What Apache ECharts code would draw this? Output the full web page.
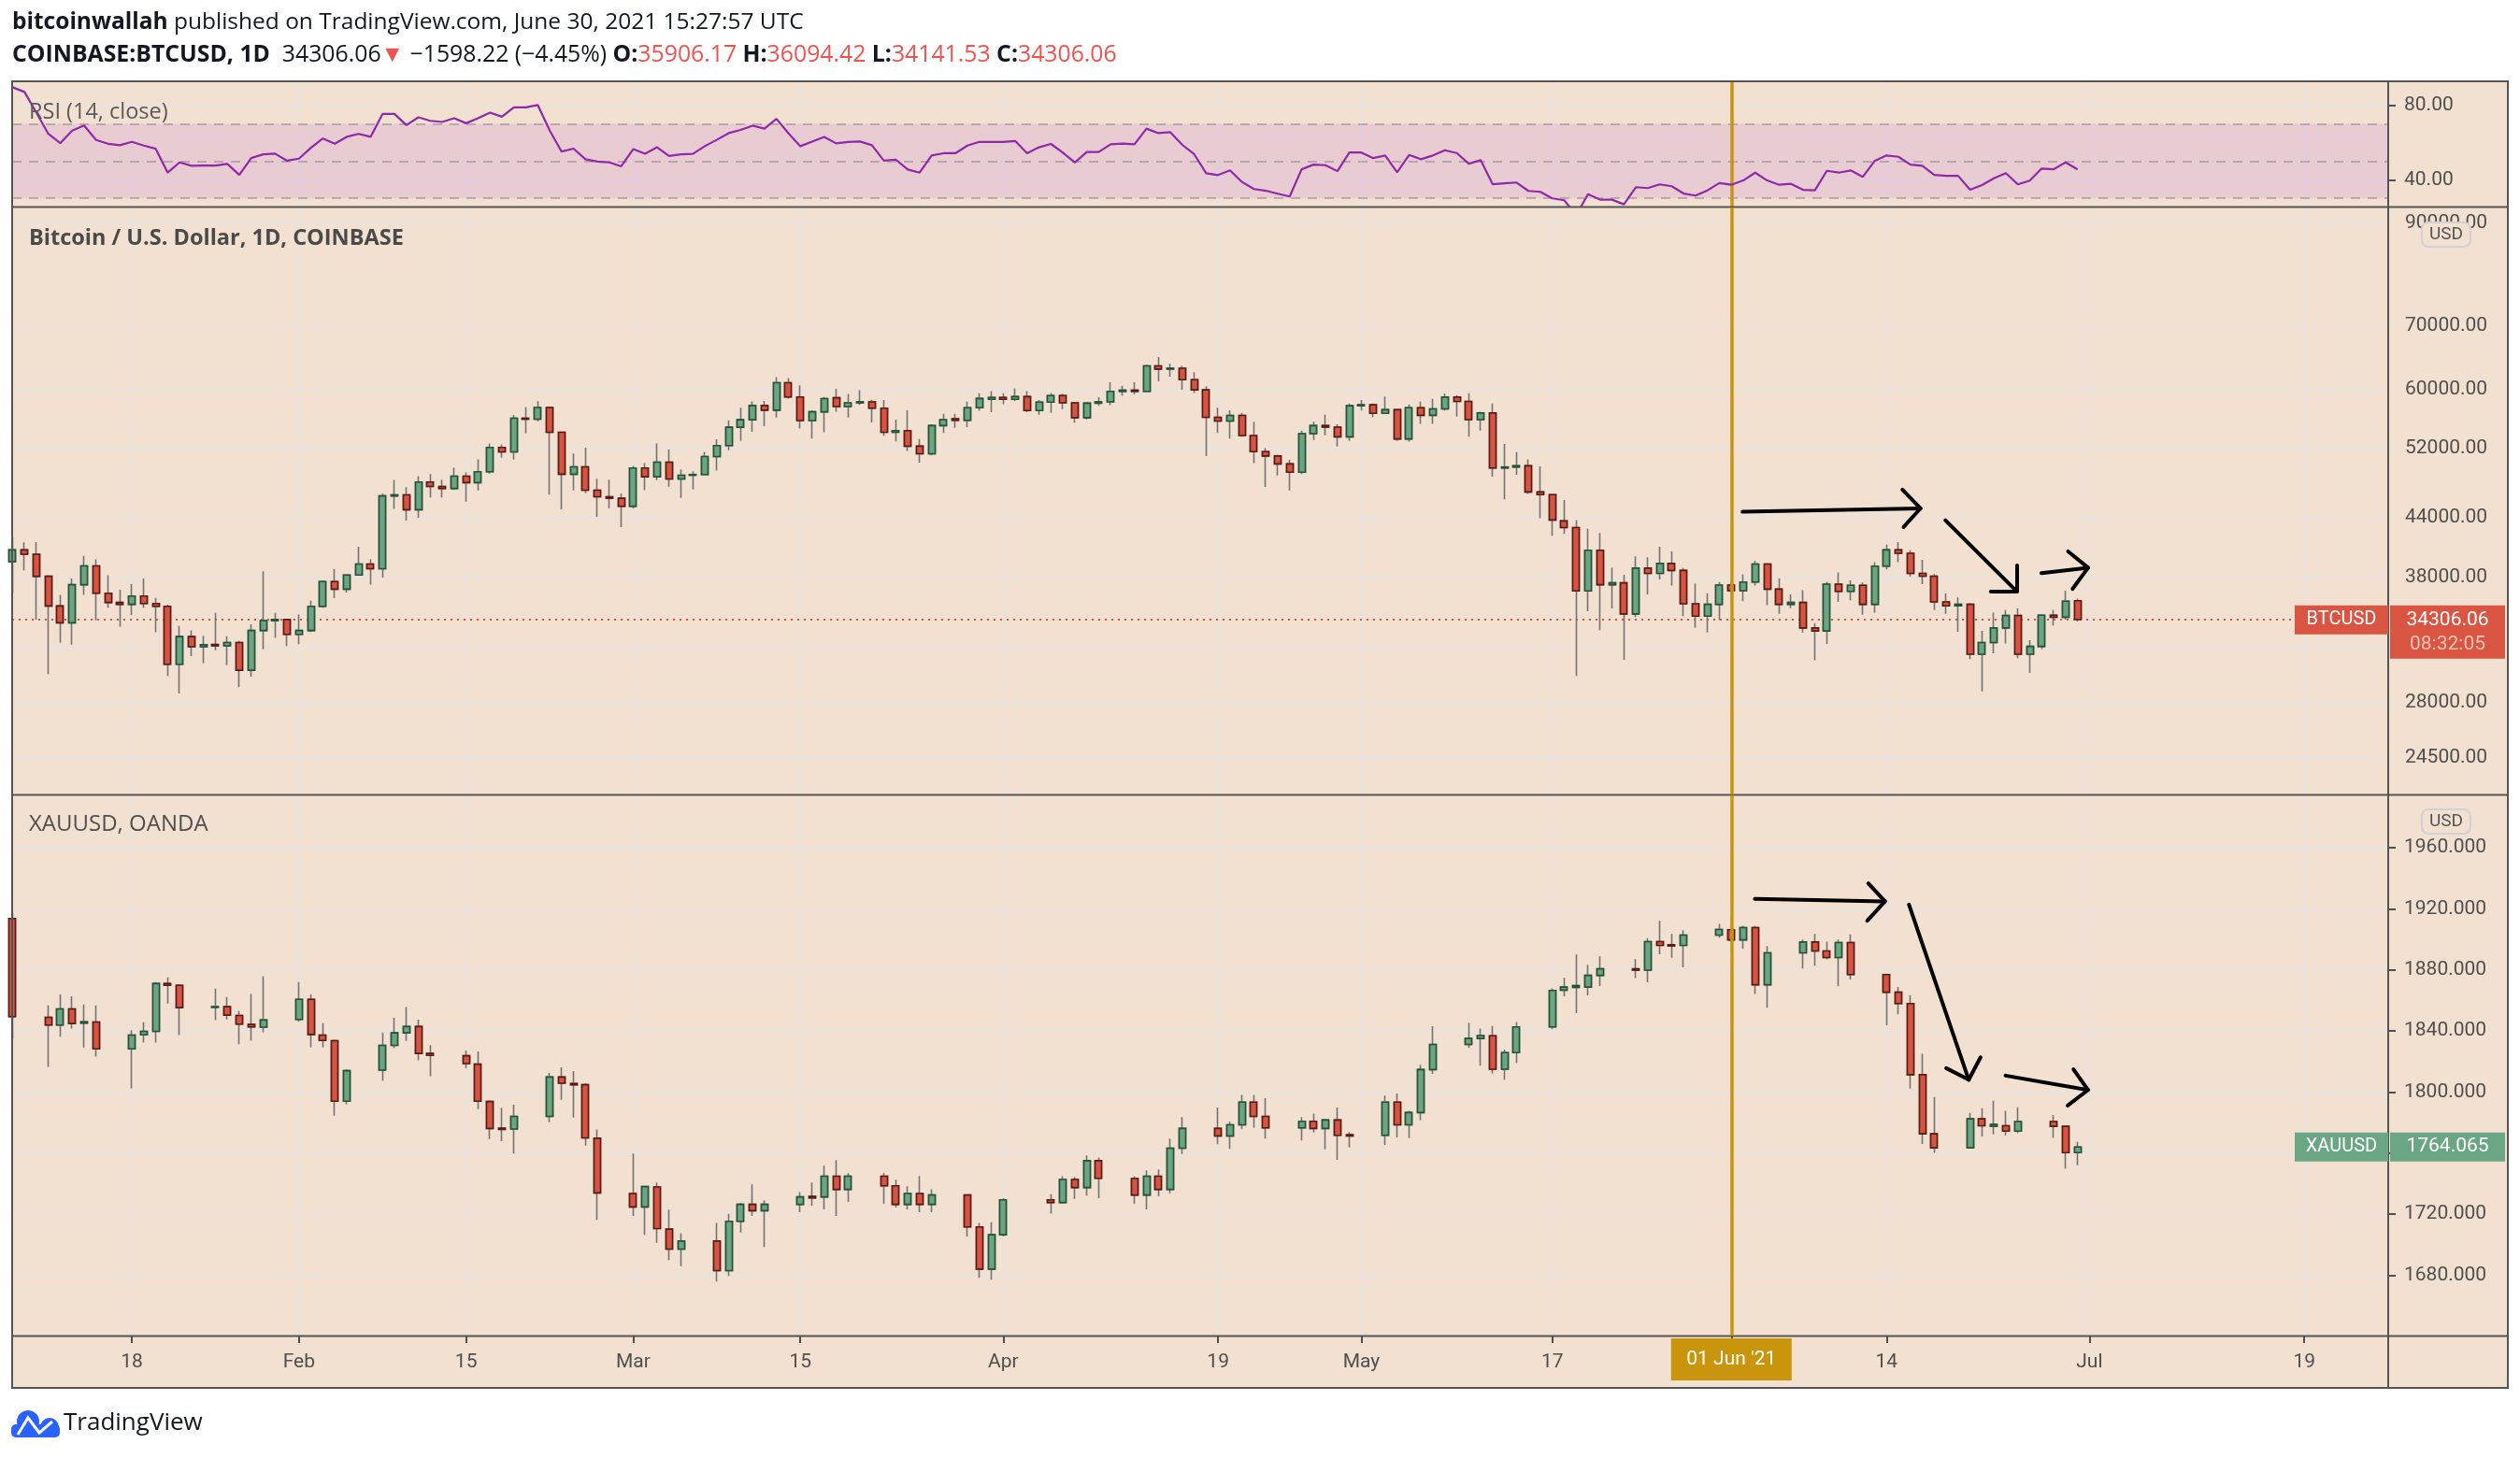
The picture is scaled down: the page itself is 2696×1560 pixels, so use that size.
<!DOCTYPE html>
<html><head><meta charset="utf-8">
<script src="https://cdn.jsdelivr.net/npm/echarts@6/dist/echarts.min.js"></script>
<style>html,body{margin:0;padding:0;background:#fff}#c{width:2696px;height:1560px}</style>
</head><body><div id="c"></div>
<script>
// ---------- DATA ----------
// BTCUSD daily: [date(MM-DD 2021), open, high, low, close]
const btcRows = [
['01-08',39490,41900,36600,40630],['01-09',40630,41385,38650,40200],['01-10',40200,41400,34300,38100],
['01-11',38100,38200,30040,35450],['01-12',35450,36420,32420,34030],['01-13',34030,37900,32260,37330],
['01-14',37330,40050,36420,39080],['01-15',39080,39700,34240,36560],['01-16',36560,38200,35290,35750],
['01-17',35750,36880,33720,35590],['01-18',35590,37380,34680,36320],['01-19',36320,37900,35300,35660],
['01-20',35660,36150,33260,35425],['01-21',35425,35560,29900,30770],['01-22',30770,33760,28650,32910],
['01-23',32910,33400,31380,32100],['01-24',32100,32980,30860,32260],['01-25',32280,34860,31840,32180],
['01-26',32180,32930,30700,32430],['01-27',32430,32560,29100,30320],['01-28',30320,33900,29850,33400],
['01-29',33400,38560,31900,34210],['01-30',34210,34860,32810,34300],['01-31',34300,34340,32150,33090],
['02-01',33090,34730,32300,33400],['02-02',33400,35910,33270,35425],['02-03',35425,37730,35290,37620],
['02-04',37620,38790,36140,36930],['02-05',36930,38280,36620,38220],['02-06',38220,40950,38200,39260],
['02-07',39260,39720,37350,38810],['02-08',38810,46610,37990,46330],['02-09',46330,48165,44900,46440],
['02-10',46440,47330,43640,44800],['02-11',44800,48600,43940,47920],['02-12',47920,48860,46160,47400],
['02-13',47400,48200,46160,47180],['02-14',47180,49630,47010,48600],['02-15',48600,49050,45680,47850],
['02-16',47850,50630,46940,49130],['02-17',49130,52640,48900,52120],['02-18',52120,52520,50830,51570],
['02-19',51570,56390,50600,55960],['02-20',55960,57500,53930,55830],['02-21',55830,58320,55520,57440],
['02-22',57440,57520,46480,54090],['02-23',54090,54170,44830,48840],['02-24',48840,51370,46940,49720],
['02-25',49720,52080,46620,46980],['02-26',46980,48300,44040,46230],['02-27',46230,48200,44930,46060],
['02-28',46060,46610,42950,45180],['03-01',45180,49840,44930,49580],['03-02',49580,50180,46980,48530],
['03-03',48530,52640,48130,50290],['03-04',50290,51850,47370,48270],['03-05',48270,49420,46090,48720],
['03-06',48720,49200,47050,48800],['03-07',48800,51550,48720,50980],['03-08',50980,53160,49270,52360],
['03-09',52360,55670,51760,54750],['03-10',54750,57400,52960,55750],['03-11',55750,58290,54150,57720],
['03-12',57720,58370,54900,57070],['03-13',57070,61830,56060,61000],['03-14',61000,61700,58700,58920],
['03-15',58920,60640,54560,55640],['03-16',55640,57060,53250,56840],['03-17',56840,58930,54070,58700],
['03-18',58810,60100,56870,57560],['03-19',57560,59360,56050,58100],['03-20',58100,59900,57790,58230],
['03-21',58230,58540,55400,57350],['03-22',57350,58500,53630,54080],['03-23',54080,55770,52900,54290],
['03-24',54290,57040,51680,52290],['03-25',52290,53200,50240,51330],['03-26',51330,55140,51130,54970],
['03-27',54970,56570,53990,55770],['03-28',55890,56570,54680,55680],['03-29',55680,58270,54760,57400],
['03-30',57400,59450,56970,58710],['03-31',58590,59780,56790,58850],['04-01',58850,59450,57910,58590],
['04-02',58590,60130,58360,58980],['04-03',58980,59780,56790,57010],['04-04',57010,58490,56450,58190],
['04-05',58190,59490,56700,59130],['04-06',59130,59400,57220,58100],['04-07',58100,58100,55350,56030],
['04-08',56030,58230,55770,58050],['04-09',58050,58890,57660,58230],['04-10',58230,61080,57750,59730],
['04-11',59730,60550,59080,59910],['04-12',59910,61080,59310,59730],['04-13',59730,63780,59730,63540],
['04-14',63540,64950,61210,63060],['04-15',63060,63880,61900,63200],['04-16',63200,63540,59960,61450],
['04-17',61450,62600,59510,59960],['04-18',59960,60480,51040,56080],['04-19',56080,57410,53980,55570],
['04-20',55570,57040,53250,56330],['04-21',56330,56700,53490,53650],['04-22',53650,55490,50180,51590],
['04-23',51590,52020,47350,51050],['04-24',51050,51200,48690,50080],['04-25',50080,50570,46960,49080],
['04-26',49080,54300,48840,53900],['04-27',53900,55470,53080,54970],['04-28',54970,56430,53680,54770],
['04-29',54770,55140,52240,53490],['04-30',53490,57990,52960,57690],['05-01',57690,58480,57010,57820],
['05-02',57820,57990,56110,56620],['05-03',56620,59000,56530,57130],['05-04',57130,57220,52960,53210],
['05-05',53210,57860,52880,57400],['05-06',57400,58270,55200,56360],['05-07',56360,58660,55200,57250],
['05-08',57250,59420,57010,58910],['05-09',58910,59150,56190,58290],['05-10',58290,59470,53490,55770],
['05-11',55770,56860,54300,56680],['05-12',56680,57990,48560,49580],['05-13',49580,52570,45940,49700],
['05-14',49700,51530,48760,49850],['05-15',49850,50640,46560,46780],['05-16',46780,49780,43880,46470],
['05-17',46470,46560,42060,43690],['05-18',43590,45860,42250,42900],['05-19',42900,43690,29900,36770],
['05-20',36770,42770,34990,40590],['05-21',40590,42340,33430,37330],['05-22',37330,38900,35230,37500],
['05-23',37500,38250,31100,34770],['05-24',34770,39990,34510,38870],['05-25',38870,39900,36460,38370],
['05-26',38370,40930,37820,39310],['05-27',39310,40470,37250,38650],['05-28',38650,38900,34590,35640],
['05-29',35640,37450,33610,34590],['05-30',34590,36560,33230,35590],['05-31',35590,37580,34250,37300],
['06-01',37300,37870,35590,36790],['06-02',36790,38290,35860,37580],['06-03',37580,39570,37250,39250],
['06-04',39250,39350,35530,36930],['06-05',36930,37920,34780,35590],['06-06',35590,36460,35260,35750],
['06-07',35750,36830,33230,33610],['06-08',33610,34000,31060,33360],['06-09',33360,37590,32330,37390],
['06-10',37390,38470,35800,36730],['06-11',36730,37730,35940,37280],['06-12',37280,37530,34700,35590],
['06-13',35590,39440,34860,39060],['06-14',39060,41150,38750,40630],['06-15',40630,41400,39440,40290],
['06-16',40290,40600,38080,38370],['06-17',38370,39660,37390,38110],['06-18',38110,38310,35100,35800],
['06-19',35800,36550,34780,35460],['06-20',35460,36200,33300,35590],['06-21',35590,35700,31150,31530],
['06-22',31530,33360,28800,32430],['06-23',32430,34890,31600,33610],['06-24',33610,35110,32360,34630],
['06-25',34630,35240,31220,31530],['06-26',31530,32620,30130,32130],['06-27',32130,34740,31930,34660],
['06-28',34660,35110,33800,34500],['06-29',34500,36790,34300,35860],['06-30',35906.17,36094.42,34141.53,34306.06]
];
// RSI(14, close) of BTCUSD, one value per BTC day
const rsiValues = [
89.6,87.1,76.0,64.6,59.6,66.3,69.1,61.3,59.3,58.5,
60.3,58.3,56.6,43.8,49.3,47.5,47.6,47.6,48.5,42.6,
51.6,53.6,54.0,50.2,51.3,57.1,62.1,59.3,63.0,64.6,
63.0,75.3,75.3,69.3,73.5,71.6,71.0,73.0,70.3,73.0,
76.0,73.8,78.8,78.8,80.1,66.5,55.1,56.7,51.0,49.7,
49.3,47.2,56.4,53.9,57.4,52.7,53.6,53.9,58.0,61.4,
65.0,66.7,69.0,67.4,72.7,65.0,58.0,60.5,63.0,59.5,
60.3,60.5,58.5,50.2,50.8,45.5,43.8,53.0,54.2,54.2,
58.3,60.3,60.3,60.3,60.8,54.2,57.4,59.2,54.5,49.2,
54.9,54.9,59.0,59.4,59.0,67.4,65.0,65.5,58.7,53.7,
43.5,42.5,45.0,38.8,35.0,34.1,32.5,31.0,45.6,48.1,
47.8,44.6,54.6,54.6,51.6,53.0,44.0,53.3,51.0,53.0,
55.8,54.3,48.6,50.5,37.6,38.1,38.5,34.0,33.5,30.0,
29.0,21.0,32.3,29.3,29.3,26.8,36.0,35.5,37.5,36.5,
32.6,31.5,34.3,38.2,37.3,39.6,43.8,39.6,37.3,37.8,
34.6,34.3,44.8,43.8,45.0,41.5,50.0,53.0,52.3,48.1,
47.5,42.6,42.1,42.1,34.6,37.1,40.8,43.5,37.5,39.5,
46.0,45.6,49.3,45.5
];
// XAUUSD daily (OANDA): [date, open, high, low, close]
const xauRows = [
['01-08',1913.7,1917.0,1835.0,1849.4],
['01-11',1849.0,1856.8,1816.5,1843.9],['01-12',1843.9,1864.0,1836.2,1854.5],['01-13',1854.5,1862.8,1841.6,1844.9],
['01-14',1845.1,1857.4,1829.2,1846.1],['01-15',1845.9,1856.8,1823.2,1828.3],
['01-18',1828.3,1840.6,1802.4,1837.3],['01-19',1837.5,1845.7,1832.5,1839.8],['01-20',1839.8,1872.1,1832.5,1871.1],
['01-21',1871.1,1875.2,1858.0,1869.9],['01-22',1869.9,1870.7,1837.3,1855.3],
['01-25',1855.5,1867.8,1847.2,1855.9],['01-26',1855.9,1862.2,1847.6,1850.4],['01-27',1850.2,1853.1,1831.3,1844.5],
['01-28',1844.3,1864.2,1833.7,1842.7],['01-29',1842.5,1875.9,1839.2,1847.2],
['02-01',1847.6,1872.1,1846.0,1860.7],['02-02',1860.7,1864.0,1829.4,1837.7],['02-03',1837.3,1845.1,1829.4,1833.8],
['02-04',1833.7,1834.5,1784.6,1794.0],['02-05',1794.0,1815.0,1792.0,1814.0],
['02-08',1814.4,1839.0,1807.3,1830.6],['02-09',1830.6,1848.6,1828.8,1838.8],['02-10',1838.8,1855.7,1833.5,1842.9],
['02-11',1842.9,1847.4,1820.8,1825.3],['02-12',1825.3,1830.8,1810.4,1824.0],
['02-15',1823.8,1827.3,1815.6,1818.7],['02-16',1818.3,1826.7,1788.8,1794.0],['02-17',1793.8,1794.6,1769.2,1776.2],
['02-18',1776.4,1789.8,1767.9,1775.6],['02-19',1775.8,1791.7,1759.8,1784.1],
['02-22',1784.1,1812.6,1780.2,1809.9],['02-23',1809.9,1816.3,1795.0,1805.8],['02-24',1805.6,1813.8,1783.3,1804.8],
['02-25',1804.8,1805.8,1764.9,1770.0],['02-26',1769.8,1775.6,1716.4,1734.0],
['03-01',1733.6,1759.8,1718.9,1724.8],['03-02',1724.8,1738.5,1706.6,1738.1],['03-03',1737.9,1740.8,1701.3,1710.7],
['03-04',1710.3,1723.0,1690.0,1697.2],['03-05',1697.2,1707.6,1686.1,1702.5],
['03-08',1702.5,1714.4,1675.9,1683.1],['03-09',1683.1,1720.3,1679.6,1715.4],['03-10',1715.4,1727.5,1708.0,1726.5],
['03-11',1726.5,1739.6,1718.9,1722.4],['03-12',1722.4,1729.1,1698.6,1726.5],
['03-15',1726.5,1734.6,1721.4,1731.4],['03-16',1731.7,1740.8,1725.6,1730.7],['03-17',1731.4,1751.8,1723.2,1744.9],
['03-18',1744.9,1755.5,1718.9,1736.3],['03-19',1736.3,1746.9,1728.1,1744.9],
['03-22',1744.9,1746.9,1726.9,1738.7],['03-23',1738.7,1742.6,1724.4,1726.5],['03-24',1726.5,1738.3,1723.2,1733.6],
['03-25',1733.6,1745.1,1721.4,1726.5],['03-26',1726.5,1736.3,1721.4,1732.6],
['03-29',1732.6,1733.2,1705.4,1711.7],['03-30',1711.7,1714.4,1678.4,1684.1],['03-31',1684.1,1714.8,1677.1,1706.6],
['04-01',1706.6,1730.5,1705.4,1729.5],
['04-05',1729.5,1733.2,1720.5,1727.7],['04-06',1727.7,1744.9,1726.9,1742.8],['04-07',1742.8,1744.5,1730.1,1737.5],
['04-08',1737.5,1758.6,1732.2,1755.1],['04-09',1755.1,1757.1,1730.5,1743.6],
['04-12',1743.4,1744.9,1726.9,1732.6],['04-13',1732.6,1748.8,1723.2,1744.9],['04-14',1744.9,1749.4,1731.8,1736.3],
['04-15',1736.3,1769.6,1733.8,1763.3],['04-16',1763.3,1783.7,1759.4,1776.2],
['04-19',1776.2,1789.9,1765.9,1771.3],['04-20',1771.3,1780.7,1762.9,1778.6],['04-21',1778.6,1798.1,1775.8,1793.4],
['04-22',1793.4,1798.1,1776.8,1784.1],['04-23',1784.1,1796.0,1769.6,1776.6],
['04-26',1776.6,1783.7,1768.4,1780.9],['04-27',1780.9,1785.8,1773.5,1776.2],['04-28',1776.2,1782.5,1762.5,1781.7],
['04-29',1781.7,1789.9,1755.7,1771.7],['04-30',1772.1,1773.9,1763.7,1771.3],
['05-03',1771.7,1797.7,1765.5,1793.4],['05-04',1793.4,1799.1,1770.4,1778.6],['05-05',1778.6,1787.8,1769.8,1786.6],
['05-06',1786.6,1817.9,1781.7,1814.8],['05-07',1814.8,1843.1,1812.0,1831.2],
['05-10',1831.2,1845.3,1829.0,1835.1],['05-11',1835.1,1841.6,1817.3,1837.0],['05-12',1836.9,1843.3,1812.2,1815.0],
['05-13',1815.0,1827.9,1807.9,1825.9],['05-14',1825.9,1845.9,1819.1,1842.7],
['05-17',1842.7,1868.0,1841.2,1866.6],['05-18',1866.8,1874.8,1862.7,1868.8],['05-19',1868.6,1890.1,1851.7,1869.7],
['05-20',1868.8,1883.4,1863.3,1876.4],['05-21',1876.4,1888.9,1869.5,1880.7],
['05-24',1880.7,1887.1,1874.6,1879.9],['05-25',1879.9,1900.8,1871.9,1898.5],['05-26',1898.5,1912.2,1890.3,1896.1],
['05-27',1896.5,1903.6,1887.9,1895.7],['05-28',1896.1,1906.1,1881.7,1902.8],
['05-31',1902.8,1910.2,1901.2,1906.5],['06-01',1906.3,1916.3,1891.4,1899.7],['06-02',1899.7,1909.0,1893.8,1907.7],
['06-03',1907.7,1909.0,1864.3,1870.3],['06-04',1870.3,1895.7,1855.3,1891.2],
['06-07',1891.2,1899.9,1880.9,1898.3],['06-08',1898.3,1903.6,1882.8,1892.4],['06-09',1892.4,1898.5,1886.9,1888.1],
['06-10',1888.1,1899.9,1869.3,1897.9],['06-11',1897.9,1903.2,1873.8,1877.0],
['06-14',1877.0,1877.6,1843.7,1865.4],['06-15',1865.4,1868.8,1851.0,1858.0],['06-16',1858.0,1863.5,1802.3,1811.4],
['06-17',1811.4,1825.1,1766.1,1772.7],['06-18',1772.7,1796.8,1760.2,1763.5],
['06-21',1763.5,1786.4,1763.0,1782.5],['06-22',1782.5,1789.5,1771.0,1778.0],['06-23',1777.6,1794.4,1772.3,1778.8],
['06-24',1778.0,1787.8,1771.7,1774.5],['06-25',1774.5,1790.1,1773.1,1780.7],
['06-28',1780.7,1785.0,1770.0,1777.6],['06-29',1777.6,1778.2,1749.8,1760.4],['06-30',1760.4,1767.4,1752.2,1764.065]
];
// time-axis ticks / labels
const xTickDates  = ['01-18','02-01','02-15','03-01','03-15','04-01','04-19','05-01','05-17','06-01','06-14','07-01','07-19'];
const xTickLabels = ['18','Feb','15','Mar','15','Apr','19','May','17','','14','Jul','19'];
const btcGridValues = [24500,28000,32000,38000,44000,52000,60000,70000,90000];
const btcHiddenLabels = [32000];
const xauGridValues = [1680,1720,1760,1800,1840,1880,1920,1960];
const xauHiddenLabels = [1760];
const rsiGridValues = [40,80];
const rsiLevels = [70,50,30];
const btcLast = 34306.06, xauLast = 1764.065;
const crosshairDate = '06-01';
// hand-drawn arrows: segments [[dayOffsetFromJan8, price],[dayOffset, price]]
const btcArrows = [
 [[144.94,44570],[159.84,44940]],[[158.33,47030],[159.84,44940]],[[158.43,42950],[159.84,44940]],
 [[161.93,43660],[167.90,36740]],[[167.94,39120],[167.94,36740]],[[165.74,36740],[167.94,36740]],
 [[169.97,38390],[173.89,38910]],[[172.21,40480],[173.89,38910]],[[172.59,36960],[173.89,38910]]
];
const xauArrows = [
 [[145.97,1926.5],[156.87,1924.9]],[[155.47,1936.7],[156.87,1924.9]],[[155.39,1912.2],[156.87,1924.9]],
 [[158.88,1922.8],[163.89,1808.1]],[[164.88,1822.8],[163.89,1808.1]],[[162.0,1815.7],[163.89,1808.1]],
 [[166.97,1810.8],[173.88,1801.4]],[[172.66,1814.9],[173.88,1801.4]],[[172.17,1791.2],[173.88,1801.4]]
];

// ---------- BUILD ----------
const DAY = 864e5;
const T0 = Date.UTC(2021,0,8);
const toT = s => { const p = s.split('-').map(Number); return Date.UTC(2021, p[0]-1, p[1]); };
const xMin = T0 - 0.03*DAY, xMax = Date.UTC(2021,6,26) + 0.03*DAY;
const tickTs = xTickDates.map(toT);
const labelMap = {}; xTickDates.forEach((d,i)=>{ labelMap[toT(d)] = xTickLabels[i]; });
const labelTs = tickTs.filter(t => labelMap[t] !== '');
const tCross = toT(crosshairDate);

const wick = rows => rows.map(r => [toT(r[0]), r[1], r[4], r[3], r[2]]);
const body = rows => rows.map(r => [toT(r[0]), r[1], r[4], Math.min(r[1],r[4]), Math.max(r[1],r[4])]);
const rsiData = btcRows.map((r,i) => [toT(r[0]), rsiValues[i]]);
const arrowLines = arr => arr.map(seg => [{coord:[T0+seg[0][0]*DAY, seg[0][1]]},{coord:[T0+seg[1][0]*DAY, seg[1][1]]}]);

const BG = '#f2e0d0', GRIDC = '#e8e3e0', AXC = '#4f4f4f', FONT = 'Roboto', HFONT = 'Open Sans';
const UP = '#6ba583', UPB = '#225437', DN = '#d75442', DNB = '#5b1a13', WICK = '#737375';
const GOLD = '#c9950c', REDTAG = '#d95542', GREENTAG = '#6ba684';
const RSI_MIN = 25.6, RSI_MAX = 92.8, BTC_MIN = 22420, BTC_MAX = 93410, XAU_MIN = 1640.6, XAU_MAX = 1994.3;

function xAx(gi, show){
  return {type:'value', gridIndex:gi, min:xMin, max:xMax, scale:true,
    axisLine:{show:false},
    axisTick:{show:show, customValues:tickTs, length:8, lineStyle:{color:AXC, width:2}},
    axisLabel:{show:show, customValues:labelTs, formatter:v => labelMap[v] || '', color:AXC, fontSize:21, fontFamily:FONT, margin:18},
    splitLine:{show:true, lineStyle:{color:GRIDC, width:2}}};
}
const labelStyle = {color:AXC, fontSize:21, fontFamily:FONT, margin:17};

const option = {
  animation:false,
  backgroundColor:'#ffffff',
  textStyle:{fontFamily:FONT},
  title:[
    {left:13, top:12, padding:0, text:'{b|bitcoinwallah} published on TradingView.com, June 30, 2021 15:27:57 UTC',
     textStyle:{fontSize:24.5, fontWeight:'normal', color:'#131722', fontFamily:HFONT,
       rich:{b:{fontSize:24.5, fontWeight:'bold', color:'#131722', fontFamily:HFONT}}}},
    {left:13, top:46, padding:0,
     text:'{b|COINBASE:BTCUSD, 1D}  34306.06{r|▼} −1598.22 (−4.45%) {b|O:}{r|35906.17} {b|H:}{r|36094.42} {b|L:}{r|34141.53} {b|C:}{r|34306.06}',
     textStyle:{fontSize:24.8, fontWeight:'normal', color:'#131722', fontFamily:HFONT,
       rich:{b:{fontSize:24.8, fontWeight:'bold', color:'#131722', fontFamily:HFONT},
             r:{fontSize:24.8, color:'#ef5350', fontFamily:HFONT}}}},
    {left:31, top:108, padding:0, text:'RSI (14, close)', textStyle:{fontSize:23.5, fontWeight:'normal', color:'#5a5a5a', fontFamily:HFONT}},
    {left:31, top:243, padding:0, text:'Bitcoin / U.S. Dollar, 1D, COINBASE', textStyle:{fontSize:23.5, fontWeight:'bold', color:'#4a4a4a', fontFamily:HFONT}},
    {left:31, top:870, padding:0, text:'XAUUSD, OANDA', textStyle:{fontSize:24, fontWeight:'normal', color:'#4f4f4f', fontFamily:HFONT}},
    {left:2591, top:238, padding:[4,8,3,8], text:'USD', backgroundColor:BG, borderColor:'#d3d0d8', borderWidth:2, borderRadius:7,
     textStyle:{fontSize:19, fontWeight:'normal', color:'#555', fontFamily:FONT}},
    {left:2591, top:866, padding:[4,8,3,8], text:'USD', backgroundColor:BG, borderColor:'#d3d0d8', borderWidth:2, borderRadius:7,
     textStyle:{fontSize:19, fontWeight:'normal', color:'#555', fontFamily:FONT}}
  ],
  grid:[
    {left:13, top:87, width:2542, height:134},
    {left:13, top:222, width:2542, height:628},
    {left:13, top:851, width:2542, height:578}
  ],
  xAxis:[xAx(0,false), xAx(1,false), xAx(2,true)],
  yAxis:[
    {gridIndex:0, type:'value', position:'right', min:RSI_MIN, max:RSI_MAX,
     axisLine:{show:false}, axisTick:{show:true, customValues:rsiGridValues, length:8, lineStyle:{color:AXC, width:2}},
     axisLabel:Object.assign({customValues:rsiGridValues, formatter:v=>Number(v).toFixed(2)}, labelStyle),
     splitLine:{show:true, lineStyle:{color:GRIDC, width:2}}},
    {gridIndex:1, type:'log', position:'right', min:BTC_MIN, max:BTC_MAX,
     axisLine:{show:false}, axisTick:{show:false}, axisLabel:{show:false}, splitLine:{show:false}, minorTick:{show:false}},
    {gridIndex:2, type:'value', position:'right', min:XAU_MIN, max:XAU_MAX,
     axisLine:{show:false}, axisTick:{show:true, customValues:xauGridValues, length:8, lineStyle:{color:AXC, width:2}},
     axisLabel:Object.assign({customValues:xauGridValues.filter(v=>!xauHiddenLabels.includes(v)), formatter:v=>Number(v).toFixed(3)}, labelStyle),
     splitLine:{show:true, lineStyle:{color:GRIDC, width:2}}}
  ],
  series:[
    {type:'line', name:'RSI', xAxisIndex:0, yAxisIndex:0, data:rsiData, showSymbol:false, z:3,
     lineStyle:{color:'#9029a8', width:2.2}, silent:true,
     markArea:{silent:true, itemStyle:{color:'rgba(170,60,230,0.12)'}, data:[[{yAxis:30},{yAxis:70}]]},
     markLine:{silent:true, symbol:['none','none'], z:1, label:{show:false},
       data: rsiLevels.map(v=>({yAxis:v, lineStyle:{type:[10,8], color:'rgba(125,120,135,0.45)', width:2}}))
         .concat([{xAxis:tCross, lineStyle:{type:'solid', color:GOLD, width:3.5}}])}},
    {type:'candlestick', name:'BTC wick', xAxisIndex:1, yAxisIndex:1, data:wick(btcRows), barWidth:7.5, z:2, silent:true,
     itemStyle:{color:'rgba(0,0,0,0)', color0:'rgba(0,0,0,0)', borderColor:WICK, borderColor0:WICK, borderWidth:1.6},
     markLine:{silent:true, symbol:['none','none'], z:1,
       data: btcGridValues.map(v=>({yAxis:v, lineStyle:{type:'solid', color:GRIDC, width:2},
               label:{show:!btcHiddenLabels.includes(v), position:'end', distance:18, formatter:v.toFixed(2), color:AXC, fontSize:21, fontFamily:FONT}}))
         .concat([{yAxis:btcLast, lineStyle:{type:[2,5], color:REDTAG, width:2}, label:{show:false}}])}},
    {type:'candlestick', name:'BTCUSD', xAxisIndex:1, yAxisIndex:1, data:body(btcRows), barWidth:7.5, z:3, silent:true,
     itemStyle:{color:UP, color0:DN, borderColor:UPB, borderColor0:DNB, borderWidth:1.6},
     markLine:{silent:true, symbol:['none','none'], z:5, label:{show:false},
       data:[{xAxis:tCross, lineStyle:{type:'solid', color:GOLD, width:3.5}}]
         .concat(arrowLines(btcArrows).map(d=>{d[0].lineStyle={color:'#000', width:4, type:'solid', cap:'round'}; return d;}))},
     markPoint:{silent:true, z:6, data:[
       {coord:[xMax, btcLast], symbol:'rect', symbolSize:[123,57], symbolOffset:[63.5,13.5], itemStyle:{color:REDTAG},
        label:{show:true, position:'inside', formatter:'{a|34306.06}\n{t|08:32:05}', color:'#fff', fontFamily:FONT,
          rich:{a:{color:'#fff', fontSize:21, lineHeight:26, fontFamily:FONT}, t:{color:'#f4c3ba', fontSize:21, lineHeight:26, fontFamily:FONT}}}},
       {coord:[xMax, btcLast], symbol:'rect', symbolSize:[100,31], symbolOffset:[-50,0.5], itemStyle:{color:REDTAG},
        label:{show:true, position:'inside', formatter:'BTCUSD', color:'#fff', fontSize:20, fontFamily:FONT}}
     ]}},
    {type:'candlestick', name:'XAU wick', xAxisIndex:2, yAxisIndex:2, data:wick(xauRows), barWidth:7.5, z:2, silent:true,
     itemStyle:{color:'rgba(0,0,0,0)', color0:'rgba(0,0,0,0)', borderColor:WICK, borderColor0:WICK, borderWidth:1.6}},
    {type:'candlestick', name:'XAUUSD', xAxisIndex:2, yAxisIndex:2, data:body(xauRows), barWidth:7.5, z:3, silent:true,
     itemStyle:{color:UP, color0:DN, borderColor:UPB, borderColor0:DNB, borderWidth:1.6},
     markLine:{silent:true, symbol:['none','none'], z:5, label:{show:false},
       data:[{xAxis:tCross, lineStyle:{type:'solid', color:GOLD, width:3.5}}]
         .concat(arrowLines(xauArrows).map(d=>{d[0].lineStyle={color:'#000', width:4, type:'solid', cap:'round'}; return d;}))},
     markPoint:{silent:true, z:6, data:[
       {coord:[xMax, xauLast], symbol:'rect', symbolSize:[123,31], symbolOffset:[63.5,0], itemStyle:{color:GREENTAG},
        label:{show:true, position:'inside', formatter:'1764.065', color:'#fff', fontSize:21, fontFamily:FONT}},
       {coord:[xMax, xauLast], symbol:'rect', symbolSize:[100,31], symbolOffset:[-50,0], itemStyle:{color:GREENTAG},
        label:{show:true, position:'inside', formatter:'XAUUSD', color:'#fff', fontSize:20, fontFamily:FONT}},
       {coord:[tCross, XAU_MIN], symbol:'rect', symbolSize:[129,45], symbolOffset:[0,25.5], itemStyle:{color:GOLD},
        label:{show:true, position:'inside', formatter:"01 Jun '21", color:'#fff', fontSize:21, fontFamily:FONT}}
     ]}}
  ],
  graphic:[
    {type:'rect', z:-100, silent:true, shape:{x:13, y:87, width:2670, height:1398}, style:{fill:BG}},
    {type:'rect', z:4, silent:true, shape:{x:13, y:87, width:2670, height:1398}, style:{fill:'none', stroke:'#555', lineWidth:2}},
    {type:'line', z:4, silent:true, shape:{x1:13, y1:221.5, x2:2683, y2:221.5}, style:{stroke:'#555', lineWidth:2}},
    {type:'line', z:4, silent:true, shape:{x1:13, y1:850.5, x2:2683, y2:850.5}, style:{stroke:'#555', lineWidth:2}},
    {type:'line', z:4, silent:true, shape:{x1:13, y1:1429.5, x2:2683, y2:1429.5}, style:{stroke:'#555', lineWidth:2}},
    {type:'line', z:4, silent:true, shape:{x1:2555, y1:87, x2:2555, y2:1485}, style:{stroke:'#555', lineWidth:2}},
    {type:'circle', z:4, silent:true, shape:{cx:30, cy:1521, r:12}, style:{fill:'#2962ff'}},
    {type:'circle', z:4, silent:true, shape:{cx:53, cy:1527, r:10}, style:{fill:'#2962ff'}},
    {type:'rect', z:4, silent:true, shape:{x:12, y:1524, width:52, height:14, r:5}, style:{fill:'#2962ff'}},
    {type:'polyline', z:5, silent:true, shape:{points:[[19,1535],[30,1517],[42,1533],[56,1521]]}, style:{stroke:'#fff', lineWidth:3, fill:'none'}},
    {type:'text', z:5, silent:true, x:68, y:1523, style:{text:'TradingView', fontSize:26, fontFamily:HFONT, fill:'#131722', verticalAlign:'middle'}}
  ]
};
const chart = echarts.init(document.getElementById('c'), null, {renderer:'canvas'});
chart.setOption(option);
</script></body></html>
